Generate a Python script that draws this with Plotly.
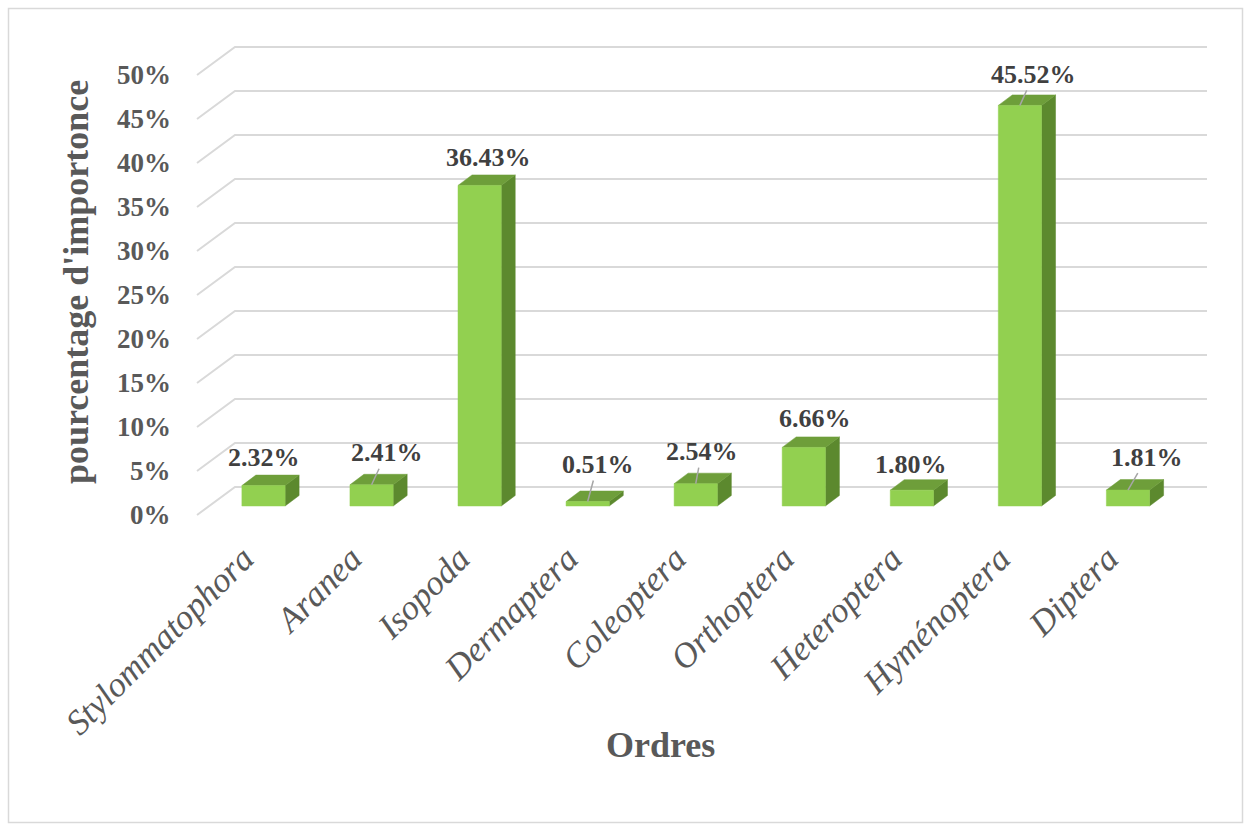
import plotly.graph_objects as go

# ---------------- data ----------------
categories = ["Stylommatophora", "Aranea", "Isopoda", "Dermaptera", "Coleoptera",
              "Orthoptera", "Heteroptera", "Hyménoptera", "Diptera"]
values = [2.32, 2.41, 36.43, 0.51, 2.54, 6.66, 1.80, 45.52, 1.81]
y_ticks = [0, 5, 10, 15, 20, 25, 30, 35, 40, 45, 50]
y_tick_labels = [f"{t}%" for t in y_ticks]
value_labels = [f"{v:.2f}%" for v in values]
y_title = "pourcentage d'importonce"
x_title = "Ordres"

# ---------------- layout geometry (pixels) ----------------
W, H = 1251, 832
PLOT_L, PLOT_R, PLOT_T, PLOT_B = 150, 1230, 20, 530
CAT0_PX, CAT_STEP_PX = 263.5, 108.06      # pixel x of first category, spacing
ZERO_PX, PCT_PX = 506.0, 8.8              # pixel y of 0 %, pixels per 1 %
BAR_W = 0.40                               # bar width in category units
BAR_DEPTH = (14.0, 10.5)                   # 3D bar depth (px right, px up)
FLOOR_FRONT = (197.0, -9.0)                # gridline front end (px x, px offset up)
WALL_BACK = (235.0, 19.0)                  # back wall start (px x, px offset up)
WALL_RIGHT_PX = 1207.0
# label offsets (px right, px up) from front-top centre of bar; leader flag
label_offsets = [(0, 28, False), (15, 32, True), (9, 28, False), (10, 37, True),
                 (6, 32, True), (11, 29, False), (-1, 26, False), (14, 31, True),
                 (19, 33, True)]

FONT = "Liberation Serif, Times New Roman, serif"
GRID_C = "#D9D9D9"
FRONT_C, TOP_C, SIDE_C = "#92D050", "#6E9E3A", "#5C892E"


def px_x(px):
    return (px - CAT0_PX) / CAT_STEP_PX


def dx_u(px):
    return px / CAT_STEP_PX


def dy_u(px):
    return px / PCT_PX


pw, ph = PLOT_R - PLOT_L, PLOT_B - PLOT_T


def paper_x(px):
    return (px - PLOT_L) / pw


def paper_y(py):
    return (PLOT_B - py) / ph


x_range = [px_x(PLOT_L), px_x(PLOT_R)]
y_range = [-(PLOT_B - ZERO_PX) / PCT_PX, (ZERO_PX - PLOT_T) / PCT_PX]

fig = go.Figure()

# ---------------- gridlines (3D wall) ----------------
gx, gy = [], []
for t in y_ticks:
    gx += [px_x(FLOOR_FRONT[0]), px_x(WALL_BACK[0]), px_x(WALL_RIGHT_PX), None]
    gy += [t + dy_u(FLOOR_FRONT[1]), t + dy_u(WALL_BACK[1]), t + dy_u(WALL_BACK[1]), None]
fig.add_trace(go.Scatter(x=gx, y=gy, mode="lines", line=dict(color=GRID_C, width=2),
                         hoverinfo="skip", showlegend=False))

# ---------------- bars ----------------
idx = list(range(len(categories)))
ddx, ddy = dx_u(BAR_DEPTH[0]), dy_u(BAR_DEPTH[1])
fx, fy, tx, ty, sx, sy = [], [], [], [], [], []
for i, v in zip(idx, values):
    l, r = i - BAR_W / 2, i + BAR_W / 2
    fx += [l, r, r, l, l, None]
    fy += [0, 0, v, v, 0, None]
    tx += [l, r, r + ddx, l + ddx, l, None]
    ty += [v, v, v + ddy, v + ddy, v, None]
    sx += [r, r + ddx, r + ddx, r, r, None]
    sy += [0, ddy, v + ddy, v, 0, None]
for xs, ys, c in [(sx, sy, SIDE_C), (tx, ty, TOP_C), (fx, fy, FRONT_C)]:
    fig.add_trace(go.Scatter(x=xs, y=ys, mode="lines", fill="toself", fillcolor=c,
                             line=dict(color=c, width=0.5), hoverinfo="skip",
                             showlegend=False))

# ---------------- data labels ----------------
for i, v, lab, (ox, oy, leader) in zip(idx, values, value_labels, label_offsets):
    common = dict(x=i, y=v, xref="x", yref="y", text=lab,
                  font=dict(family=FONT, size=26, color="#404040", weight="bold"))
    if leader:
        fig.add_annotation(**common, showarrow=True, arrowhead=0, arrowwidth=1.5,
                           arrowcolor="#A6A6A6", ax=ox, ay=-oy, standoff=0)
    else:
        fig.add_annotation(**common, showarrow=False, xshift=ox, yshift=oy)

# ---------------- y tick labels ----------------
for t, lab in zip(y_ticks, y_tick_labels):
    fig.add_annotation(x=px_x(FLOOR_FRONT[0]), y=t + dy_u(FLOOR_FRONT[1]), xref="x", yref="y",
                       text=lab, showarrow=False, xanchor="right", yanchor="middle",
                       xshift=-24, font=dict(family=FONT, size=27, color="#595959", weight="bold"))

# ---------------- axis titles ----------------
fig.add_annotation(x=paper_x(76), y=paper_y(282), xref="paper", yref="paper",
                   text=y_title, textangle=-90, showarrow=False,
                   xanchor="center", yanchor="middle",
                   font=dict(family=FONT, size=36, color="#595959", weight="bold"))
fig.add_annotation(x=paper_x(660), y=paper_y(745), xref="paper", yref="paper",
                   text=x_title, showarrow=False, xanchor="center", yanchor="middle",
                   font=dict(family=FONT, size=36, color="#595959", weight="bold"))

# ---------------- chart border ----------------
fig.add_shape(type="rect", xref="paper", yref="paper",
              x0=paper_x(8.5), x1=paper_x(1242.5),
              y0=paper_y(822.5), y1=paper_y(8.5),
              line=dict(color=GRID_C, width=1.5), layer="below")

fig.update_layout(
    width=W, height=H,
    margin=dict(l=PLOT_L, r=W - PLOT_R, t=PLOT_T, b=H - PLOT_B, autoexpand=False),
    paper_bgcolor="white", plot_bgcolor="rgba(0,0,0,0)",
    xaxis=dict(range=x_range, tickmode="array", tickvals=idx, ticktext=categories,
               tickangle=-45, showgrid=False, zeroline=False, showline=False,
               ticks="", automargin=False, ticklabelshift=-20,
               tickfont=dict(family=FONT, size=35, color="#595959", style="italic")),
    yaxis=dict(range=y_range, visible=False, fixedrange=True),
    showlegend=False,
)

fig.write_html("out.html")
